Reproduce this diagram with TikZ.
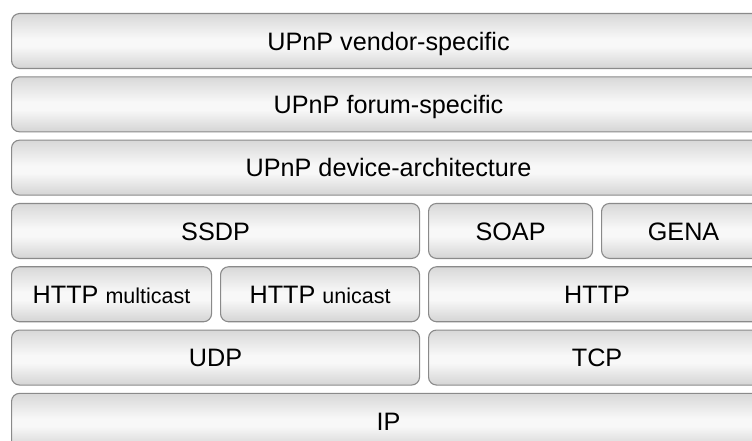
\documentclass[tikz,border=0pt]{standalone}
\usepackage{fontspec}
\setmainfont{Liberation Sans}
\definecolor{edge}{HTML}{8A8A8A}
\definecolor{shadetop}{HTML}{D8D8D8}
\definecolor{shademid}{HTML}{F8F8F8}
\definecolor{shadebot}{HTML}{D4D4D4}
% vertical gloss: darker rim at top and bottom, bright band a little below the middle
\pgfdeclareverticalshading{layergloss}{100bp}{%
  color(0bp)=(shadebot); color(25bp)=(shadebot); color(45bp)=(shademid);
  color(52bp)=(shademid); color(75bp)=(shadetop); color(100bp)=(shadetop)}
\newcommand\smallword[1]{{\fontsize{21.5}{26}\selectfont #1}}
\tikzset{
  layer/.style={draw=edge, line width=1.1pt, rounded corners=8pt,
    shading=layergloss,
    minimum height=55pt, inner sep=0pt, anchor=north west,
    font=\fontsize{25.2}{30}\selectfont, text=black,
    text depth=0pt, text height=18.5pt},
}
\begin{document}
\begin{tikzpicture}[x=1pt,y=-1pt]
  \useasboundingbox (0,0) rectangle (752,441);
  \clip (0,0) rectangle (752,441);
  % application layers
  \node[layer, minimum width=754pt] (vendor) at (11,13)    {UPnP vendor-specific};
  \node[layer, minimum width=754pt] (forum)  at (11,76.3)  {UPnP forum-specific};
  \node[layer, minimum width=754pt] (arch)   at (11,139.6) {UPnP device-architecture};
  % protocols
  \node[layer, minimum width=408pt] (ssdp) at (11,202.9)  {SSDP};
  \node[layer, minimum width=164pt] (soap) at (428,202.9) {SOAP};
  \node[layer, minimum width=164pt] (gena) at (601,202.9) {GENA};
  % HTTP variants
  \node[layer, minimum width=200pt] (mcast) at (11,266.2)  {HTTP \smallword{multicast}};
  \node[layer, minimum width=199pt] (ucast) at (220,266.2) {HTTP \smallword{unicast}};
  \node[layer, minimum width=337pt] (http)  at (428,266.2) {HTTP};
  % transport
  \node[layer, minimum width=408pt] (udp) at (11,329.5)  {UDP};
  \node[layer, minimum width=337pt] (tcp) at (428,329.5) {TCP};
  % network
  \node[layer, minimum width=754pt] (ip) at (11,392.8) {IP};
\end{tikzpicture}
\end{document}
